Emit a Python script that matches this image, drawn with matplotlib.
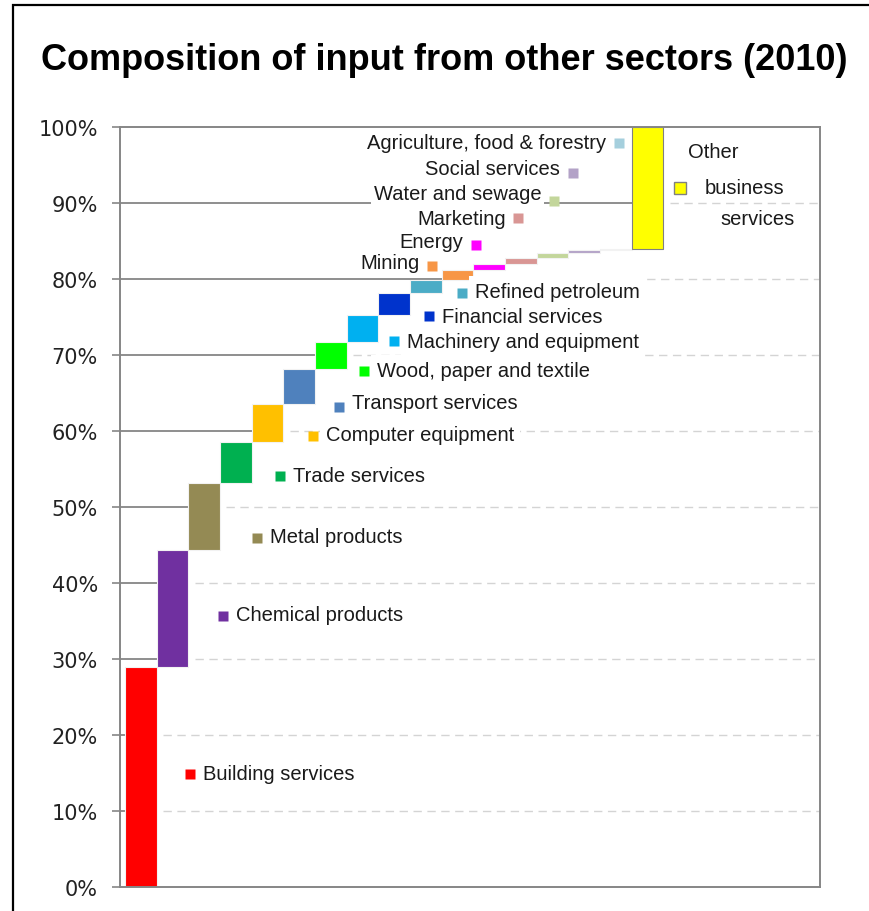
import matplotlib.pyplot as plt
import matplotlib.patches as mpatches
import numpy as np

plt.rcParams['font.family'] = ['Liberation Sans', 'DejaVu Sans']

sectors = ['Building services', 'Chemical products', 'Metal products', 'Trade services',
           'Computer equipment', 'Transport services', 'Wood, paper and textile',
           'Machinery and equipment', 'Financial services', 'Refined petroleum',
           'Mining', 'Energy', 'Marketing', 'Water and sewage', 'Social services',
           'Agriculture, food & forestry', 'Other business services']
shares = [28.9, 15.5, 8.8, 5.4, 5.0, 4.6, 3.5, 3.6, 2.9, 1.7,
          1.3, 0.8, 0.8, 0.6, 0.4, 0.2, 16.0]
colors = ['#FF0000', '#7030A0', '#948A54', '#00B050', '#FFC000', '#4F81BD', '#00FF00',
          '#00B0F0', '#0033CC', '#4BACC6', '#F79646', '#FF00FF', '#D99694', '#C3D69B',
          '#B3A2C7', '#A5CFDD', '#FFFF00']

# label anchors: marker (category units, percent), text height (percent), text side
marker_x = [1.55, 2.59, 3.66, 4.39, 5.43, 6.25, 7.04, 7.99, 9.10, 10.14,
            9.19, 10.58, 11.91, 13.04, 13.64, 15.10, 17.02]
marker_y = [14.9, 35.7, 45.9, 54.1, 59.4, 63.2, 67.9, 71.8, 75.1, 78.2,
            81.7, 84.5, 88.0, 90.2, 94.0, 97.9, 92.0]
text_y = [14.9, 35.8, 46.1, 54.2, 59.5, 63.7, 68.0, 71.8, 75.1, 78.3,
          82.2, 84.9, 88.0, 91.2, 94.5, 97.9, 92.0]
label_side = ['r'] * 10 + ['l'] * 6 + ['o']

shares = np.array(shares)
tops = np.cumsum(shares)
bottoms = tops - shares
x = np.arange(len(shares))

fig = plt.figure(figsize=(8.69, 9.12), dpi=100)
ax = fig.add_axes([120 / 869, 1 - 888 / 912, 700 / 869, 760 / 912])

xmin, xmax = -0.663, 21.45
ax.set_xlim(xmin, xmax)
ax.set_ylim(0, 100)

grid_grey = '#868686'
# gridlines: solid up to the bar that crosses the level, dashed beyond it
for lev in range(10, 100, 10):
    i = int(np.searchsorted(tops, lev))
    ax.plot([xmin, i - 0.5], [lev, lev], color=grid_grey, lw=1.3, zorder=1)
    ax.plot([i + 0.5 + 0.2, xmax], [lev, lev], color='#D4D4D4', lw=1.0,
            dashes=(6, 4), zorder=1)

edges = ['#F2F2F2'] * (len(shares) - 1) + ['#808080']
ax.bar(x, shares, bottom=bottoms, width=1.0, color=colors, edgecolor=edges,
       linewidth=0.8, zorder=2)

fs = 14.5
txt_color = '#1A1A1A'
for name, c, mx, my, ty, side in zip(sectors, colors, marker_x, marker_y, text_y, label_side):
    ec = '#808080' if side == 'o' else 'none'
    ms = 8.5 if side == 'o' else 7
    ax.plot(mx, my, marker='s', ms=ms, mfc=c, mec=ec, mew=1.0, ls='none', zorder=5)
    if side in ('r', 'l'):
        dx, ha, pad = (9.5, 'left', 0.3) if side == 'r' else (-9, 'right', 0.12)
        box = dict(boxstyle=f'square,pad={pad}', fc='white', ec='none')
        # white box first (hides the dashed gridlines), then the text on top
        ax.annotate(name, (mx, ty), xytext=(dx, 0), textcoords='offset points',
                    ha=ha, va='center', fontsize=fs, color='white', bbox=box, zorder=3)
        ax.annotate(name, (mx, ty), xytext=(dx, 0), textcoords='offset points',
                    ha=ha, va='center', fontsize=fs, color=txt_color, zorder=4)
    else:
        offs = [(6, 26), (18, 0), (29, -22)]
        for w, o in zip(name.split(), offs):
            ax.annotate(w, (mx, my), xytext=o, textcoords='offset points',
                        ha='left', va='center', fontsize=fs, color=txt_color, zorder=4)

ax.set_yticks(np.arange(0, 101, 10))
ax.set_yticklabels([f'{v}%' for v in range(0, 101, 10)], fontsize=15,
                   color='#222222', family='DejaVu Sans')
ax.tick_params(axis='y', direction='out', length=6, width=1.2, color=grid_grey, pad=10)
ax.set_xticks([])
for s in ax.spines.values():
    s.set_color(grid_grey)
    s.set_linewidth(1.4)
    s.set_zorder(6)

fig.text(444 / 869, 1 - 60 / 912, 'Composition of input from other sectors (2010)',
         ha='center', va='center', fontsize=26, fontweight='bold', color='black')

fig.patches.append(mpatches.Rectangle((13 / 869, -0.1), 2, 1.1 - 6 / 912,
                                      transform=fig.transFigure, fill=False,
                                      ec='black', lw=1.6))

fig.savefig('out.png', dpi=100)
